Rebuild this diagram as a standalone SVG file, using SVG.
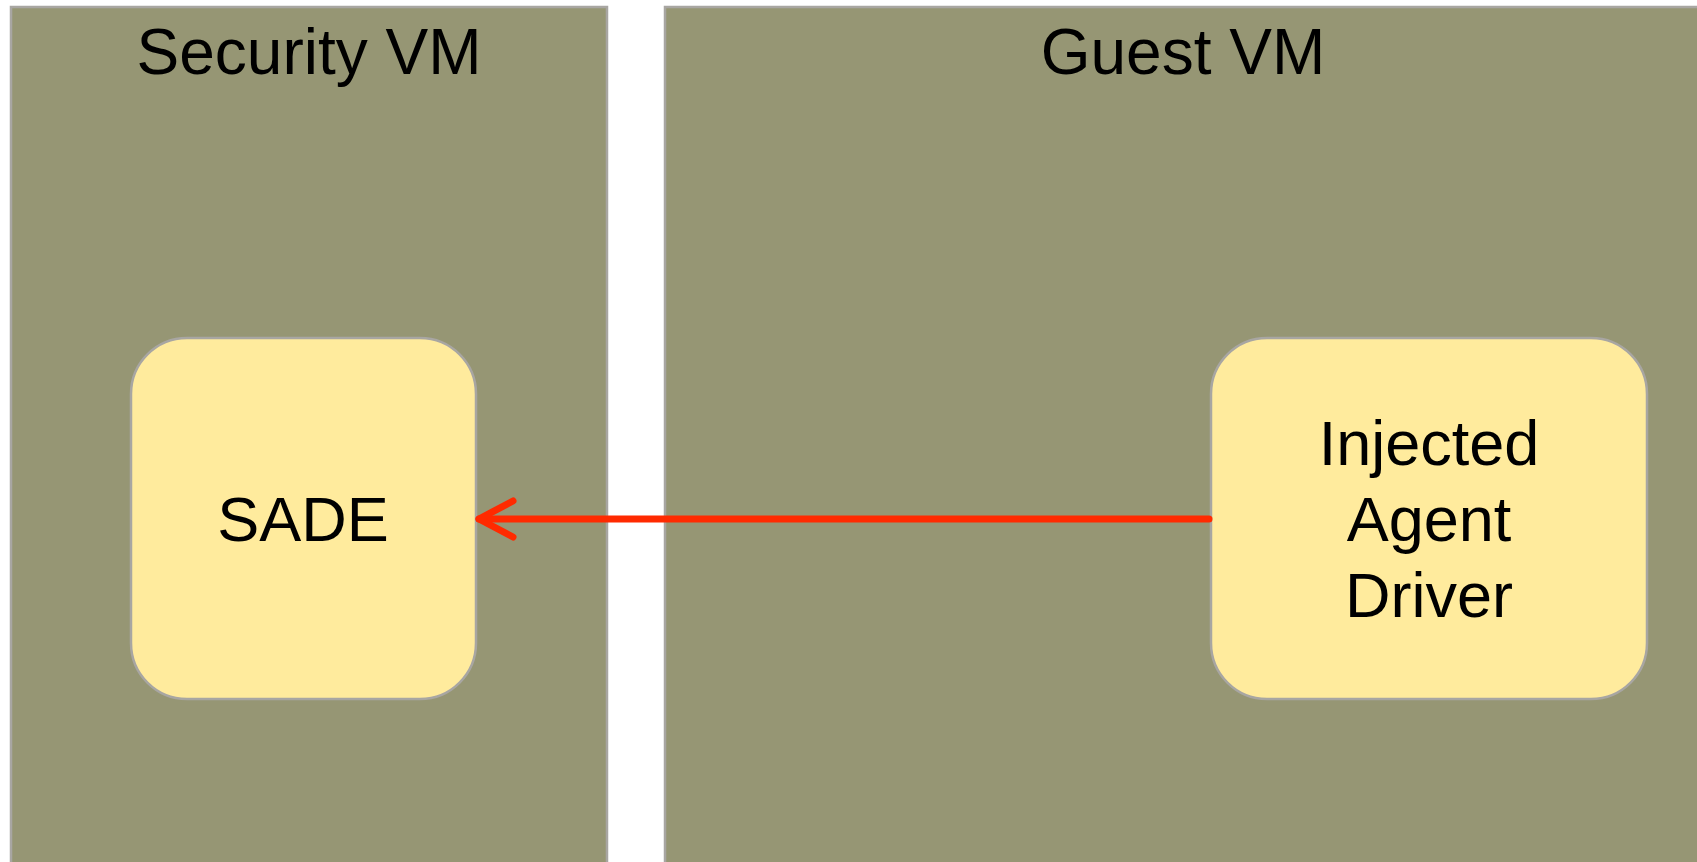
<svg xmlns="http://www.w3.org/2000/svg" width="1697" height="862" viewBox="0 0 1697 862">
  <defs>
    <style>
      .panel { fill: #969674; stroke: #a8a6a2; stroke-width: 2.5; }
      .box { fill: #ffeb9d; stroke: #a8a6a2; stroke-width: 2.5; }
      .title { font-family: "Liberation Sans", Arial, sans-serif; font-size: 64px; fill: #000; text-anchor: middle; }
      .label { font-family: "Liberation Sans", Arial, sans-serif; font-size: 63px; fill: #000; text-anchor: middle; }
      .conn { fill: none; stroke: #ff2a00; stroke-width: 7; stroke-linecap: round; stroke-linejoin: round; }
    </style>
  </defs>
  <rect x="0" y="0" width="1697" height="862" fill="#ffffff"/>

  <!-- Security VM container -->
  <g id="security-vm">
    <rect class="panel" x="11" y="7" width="596" height="870"/>
    <text class="title" x="309" y="74">Security VM</text>
  </g>

  <!-- Guest VM container -->
  <g id="guest-vm">
    <rect class="panel" x="665" y="7" width="1050" height="870"/>
    <text class="title" x="1183" y="74">Guest VM</text>
  </g>

  <!-- SADE node -->
  <g id="sade">
    <rect class="box" x="131" y="338" width="345" height="361" rx="56" ry="56"/>
    <text class="label" x="303" y="541">SADE</text>
  </g>

  <!-- Injected Agent Driver node -->
  <g id="agent-driver">
    <rect class="box" x="1211" y="338" width="436" height="361" rx="56" ry="56"/>
    <text class="label" x="1429" y="465">Injected</text>
    <text class="label" x="1429" y="541">Agent</text>
    <text class="label" x="1429" y="617">Driver</text>
  </g>

  <!-- Connectors -->
  <g id="connectors">
    <line class="conn" x1="1209" y1="519" x2="479" y2="519" stroke-linecap="butt"/>
    <polyline class="conn" points="513,501 479,519 513,537"/>
  </g>
</svg>
